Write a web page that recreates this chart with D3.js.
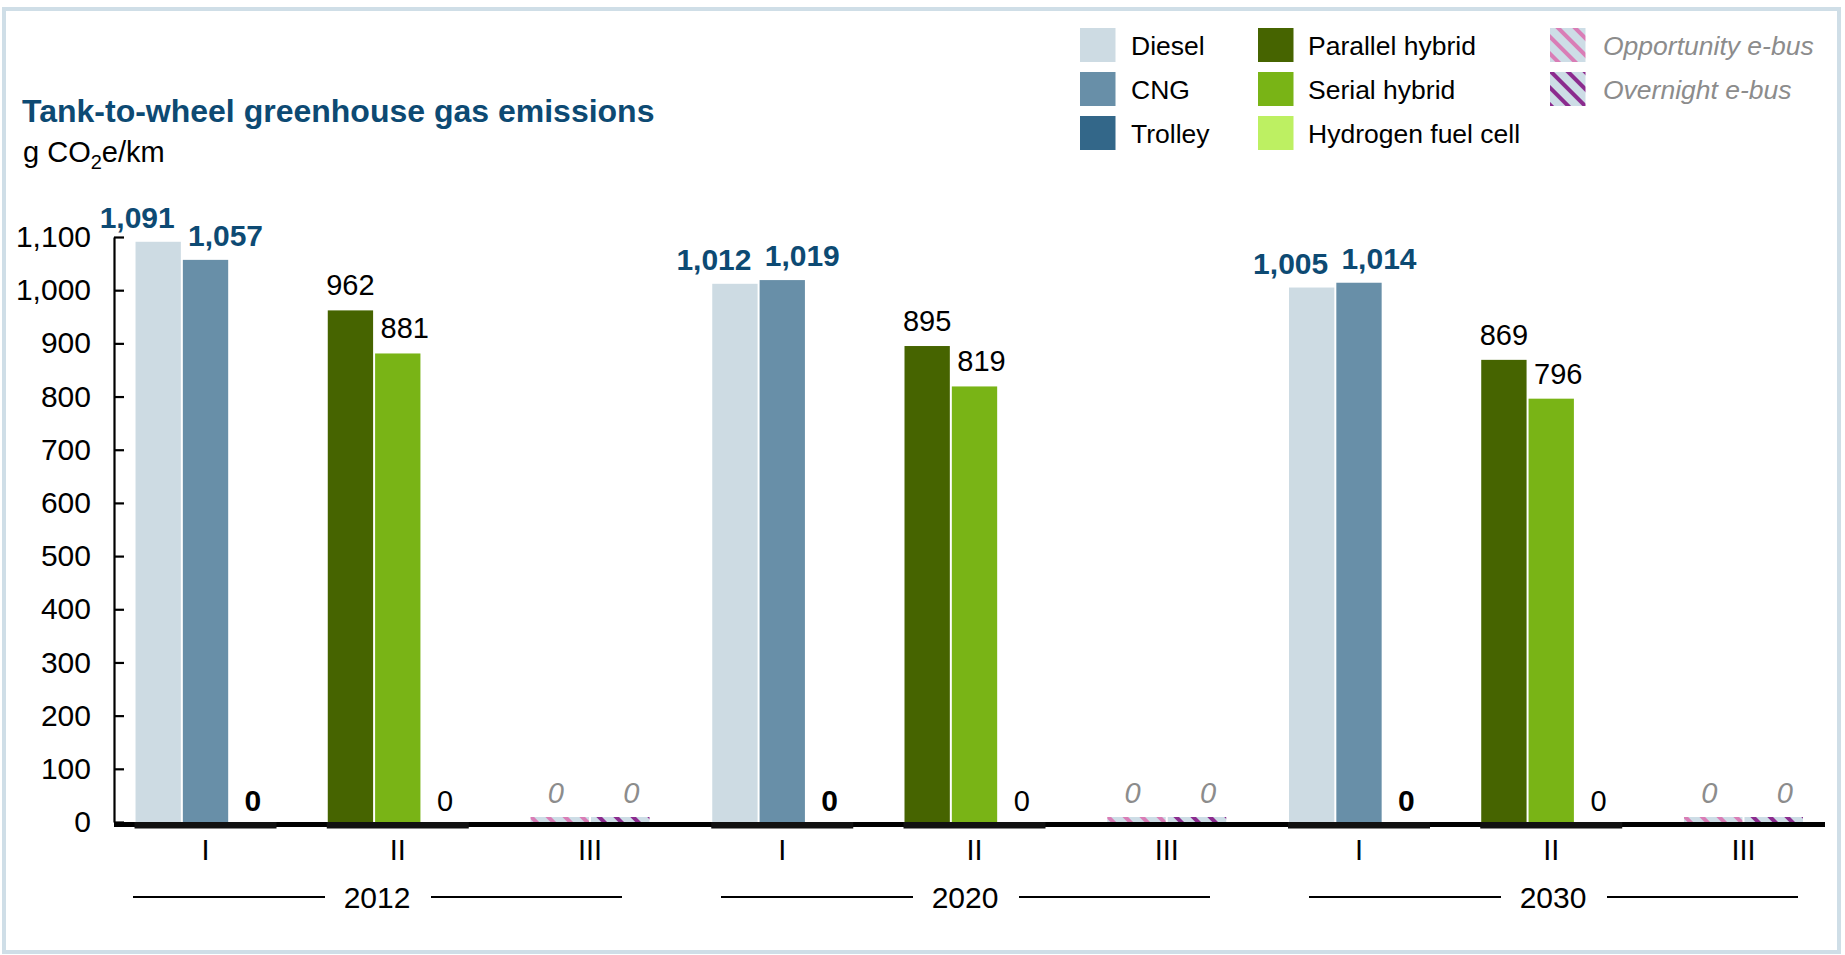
<!DOCTYPE html>
<html>
<head>
<meta charset="utf-8">
<script src="https://cdn.jsdelivr.net/npm/d3@7"></script>
<style>
  html, body { margin: 0; padding: 0; background: #ffffff; }
  svg { display: block; font-family: "Liberation Sans", Arial, sans-serif; }
</style>
</head>
<body>
<svg id="chart" width="1845" height="955"></svg>
<script>
// Tank-to-wheel GHG emissions per bus powertrain, g CO2e/km
const years = ["2012", "2020", "2030"];
const powertrainGroups = ["I", "II", "III"];

const diesel          = [1091, 1012, 1005];
const cng             = [1057, 1019, 1014];
const trolley         = [0, 0, 0];
const parallelHybrid  = [962, 895, 869];
const serialHybrid    = [881, 819, 796];
const hydrogenFuelCell = [0, 0, 0];
const opportunityEbus = [0, 0, 0];
const overnightEbus   = [0, 0, 0];

const yTicks = [0, 100, 200, 300, 400, 500, 600, 700, 800, 900, 1000, 1100];

// Series table: which group each series belongs to and its slot in that group
const series = [
  { key: "diesel",      name: "Diesel",             values: diesel,          group: "I",   slot: 0 },
  { key: "cng",         name: "CNG",                values: cng,             group: "I",   slot: 1 },
  { key: "trolley",     name: "Trolley",            values: trolley,         group: "I",   slot: 2 },
  { key: "parallel",    name: "Parallel hybrid",    values: parallelHybrid,  group: "II",  slot: 0 },
  { key: "serial",      name: "Serial hybrid",      values: serialHybrid,    group: "II",  slot: 1 },
  { key: "hydrogen",    name: "Hydrogen fuel cell", values: hydrogenFuelCell, group: "II", slot: 2 },
  { key: "opportunity", name: "Opportunity e-bus",  values: opportunityEbus, group: "III", slot: 0 },
  { key: "overnight",   name: "Overnight e-bus",    values: overnightEbus,   group: "III", slot: 1 }
];

// Styling per series
const fills = {
  diesel: "#cddbe3", cng: "#688fa8", trolley: "#336789",
  parallel: "#466400", serial: "#79b416", hydrogen: "#bdf062",
  opportunity: "url(#hatch-opportunity)", overnight: "url(#hatch-overnight)"
};
const labelStyle = {
  diesel:      { weight: "bold",   style: "normal", color: "#0d4a73", dx: -21, gap: 14 },
  cng:         { weight: "bold",   style: "normal", color: "#0d4a73", dx: 20,  gap: 14 },
  trolley:     { weight: "bold",   style: "normal", color: "#000000", dx: 0,   gap: 11 },
  parallel:    { weight: "normal", style: "normal", color: "#000000", dx: 0,   gap: 15 },
  serial:      { weight: "normal", style: "normal", color: "#000000", dx: 7,   gap: 15 },
  hydrogen:    { weight: "normal", style: "normal", color: "#000000", dx: 0,   gap: 11 },
  opportunity: { weight: "normal", style: "italic", color: "#8c8c8c", dx: -4,  gap: 14 },
  overnight:   { weight: "normal", style: "italic", color: "#8c8c8c", dx: 11,  gap: 14 }
};

const svg = d3.select("#chart");
const fmt = d3.format(",");

// Hatch patterns for the e-bus series
const defs = svg.append("defs");
[["hatch-opportunity", "#d97db6"], ["hatch-overnight", "#8b2b8e"]].forEach(([id, c]) => {
  const p = defs.append("pattern")
    .attr("id", id).attr("patternUnits", "userSpaceOnUse")
    .attr("width", 12).attr("height", 12)
    .attr("patternTransform", "rotate(-45)");
  p.append("rect").attr("width", 12).attr("height", 12).attr("fill", "#cddde6");
  p.append("rect").attr("width", 4).attr("height", 12).attr("fill", c);
});

// Outer frame
svg.append("rect")
  .attr("x", 4).attr("y", 9).attr("width", 1835).attr("height", 943)
  .attr("fill", "none").attr("stroke", "#cfdee7").attr("stroke-width", 4);

// Scales
const axisX = 114, baseEnd = 1825;
const y = d3.scaleLinear().domain([0, 1100]).range([822, 237]);

const categories = [];
years.forEach(yr => powertrainGroups.forEach(g => categories.push(yr + "|" + g)));
const x = d3.scaleBand().domain(categories).range([109.4, 1839.6]).paddingInner(0).paddingOuter(0);
const xYear = d3.scaleBand().domain(years).range([83, 1847]);

const innerScales = {
  I:   d3.scaleBand().domain([0, 1, 2]).range([-71, 71]),
  II:  d3.scaleBand().domain([0, 1, 2]).range([-71, 71]),
  III: d3.scaleBand().domain([0, 1]).range([-60.5, 60.5])
};
const catCenter = c => x(c) + x.bandwidth() / 2;

// Y axis: ticks pointing into the plot, labels on the left
const yAxis = d3.axisLeft(y).tickValues(yTicks).tickFormat(fmt)
  .tickSizeInner(-10).tickSizeOuter(0).tickPadding(23);
const gy = svg.append("g").attr("transform", `translate(${axisX},0)`).call(yAxis);
gy.select(".domain").attr("stroke", "#000").attr("stroke-width", 2.2);
gy.selectAll(".tick line").attr("stroke", "#000").attr("stroke-width", 2.2);
gy.selectAll(".tick text").attr("font-size", 30).attr("fill", "#000")
  .attr("font-family", "'Liberation Sans', Arial, sans-serif");

// Bars
const barData = [];
series.forEach(s => {
  years.forEach((yr, i) => {
    barData.push({ s, yr, value: s.values[i], cat: yr + "|" + s.group });
  });
});

const minStub = 5; // e-bus bars keep a thin visible strip at zero
const barGeom = d => {
  const inner = innerScales[d.s.group];
  const left = catCenter(d.cat) + inner(d.s.slot) + 1;
  const w = inner.bandwidth() - 2;
  let top = y(d.value);
  if (d.s.group === "III") top = Math.min(top, y(0) - minStub);
  return { left, w, top, h: y(0) - top };
};

svg.append("g").selectAll("rect")
  .data(barData.filter(d => d.value > 0 || d.s.group === "III"))
  .join("rect")
  .attr("x", d => barGeom(d).left)
  .attr("y", d => barGeom(d).top)
  .attr("width", d => barGeom(d).w)
  .attr("height", d => barGeom(d).h)
  .attr("fill", d => fills[d.s.key]);

// Baseline and darker strips under groups I and II
svg.append("line")
  .attr("x1", axisX).attr("x2", baseEnd)
  .attr("y1", y(0) + 2.5).attr("y2", y(0) + 2.5)
  .attr("stroke", "#000").attr("stroke-width", 5);
svg.append("g").selectAll("rect")
  .data(categories.filter(c => !c.endsWith("III")))
  .join("rect")
  .attr("x", c => catCenter(c) - 71)
  .attr("width", 142)
  .attr("y", y(0))
  .attr("height", 6.5)
  .attr("fill", "#111");

// Value labels
svg.append("g").selectAll("text")
  .data(barData)
  .join("text")
  .attr("x", d => { const g = barGeom(d); return g.left + g.w / 2 + labelStyle[d.s.key].dx; })
  .attr("y", d => barGeom(d).top - labelStyle[d.s.key].gap)
  .attr("text-anchor", "middle")
  .attr("font-size", d => labelStyle[d.s.key].weight === "bold" ? 30 : 29)
  .attr("font-weight", d => labelStyle[d.s.key].weight)
  .attr("font-style", d => labelStyle[d.s.key].style)
  .attr("fill", d => labelStyle[d.s.key].color)
  .text(d => fmt(d.value));

// Category labels (I / II / III)
svg.append("g").selectAll("text")
  .data(categories)
  .join("text")
  .attr("x", c => catCenter(c))
  .attr("y", 860)
  .attr("text-anchor", "middle")
  .attr("font-size", 29)
  .text(c => c.split("|")[1]);

// Year labels with rules on both sides
const yearG = svg.append("g").selectAll("g")
  .data(years)
  .join("g")
  .attr("transform", yr => `translate(${xYear(yr) + xYear.bandwidth() / 2},0)`);
yearG.append("text")
  .attr("x", 0).attr("y", 908)
  .attr("text-anchor", "middle")
  .attr("font-size", 30)
  .text(yr => yr);
yearG.append("line").attr("x1", -244).attr("x2", -52).attr("y1", 897).attr("y2", 897)
  .attr("stroke", "#000").attr("stroke-width", 2);
yearG.append("line").attr("x1", 54).attr("x2", 245).attr("y1", 897).attr("y2", 897)
  .attr("stroke", "#000").attr("stroke-width", 2);

// Title and unit
svg.append("text")
  .attr("x", 22).attr("y", 122)
  .attr("font-size", 32).attr("font-weight", "bold").attr("fill", "#0d4a73")
  .text("Tank-to-wheel greenhouse gas emissions");
const unit = svg.append("text")
  .attr("x", 23).attr("y", 162)
  .attr("font-size", 29).attr("fill", "#000");
unit.append("tspan").text("g CO");
unit.append("tspan").attr("font-size", 20).attr("dy", 7).text("2");
unit.append("tspan").attr("dy", -7).text("e/km");

// Legend
const legendItems = series.map(s => ({
  s,
  col: s.group === "I" ? 0 : s.group === "II" ? 1 : 2,
  row: s.slot
}));
const legendColX = [1080, 1258, 1550];
const legendTextX = [1131, 1308, 1603];
const legendRowY = [28, 72, 116];
const lg = svg.append("g").selectAll("g")
  .data(legendItems)
  .join("g");
lg.append("rect")
  .attr("x", d => legendColX[d.col])
  .attr("y", d => legendRowY[d.row])
  .attr("width", 35.5).attr("height", 34)
  .attr("fill", d => fills[d.s.key]);
lg.append("text")
  .attr("x", d => legendTextX[d.col])
  .attr("y", d => legendRowY[d.row] + 26.5)
  .attr("font-size", 26.5)
  .attr("font-style", d => d.col === 2 ? "italic" : "normal")
  .attr("fill", d => d.col === 2 ? "#8c8c8c" : "#000")
  .text(d => d.s.name);
</script>
</body>
</html>
